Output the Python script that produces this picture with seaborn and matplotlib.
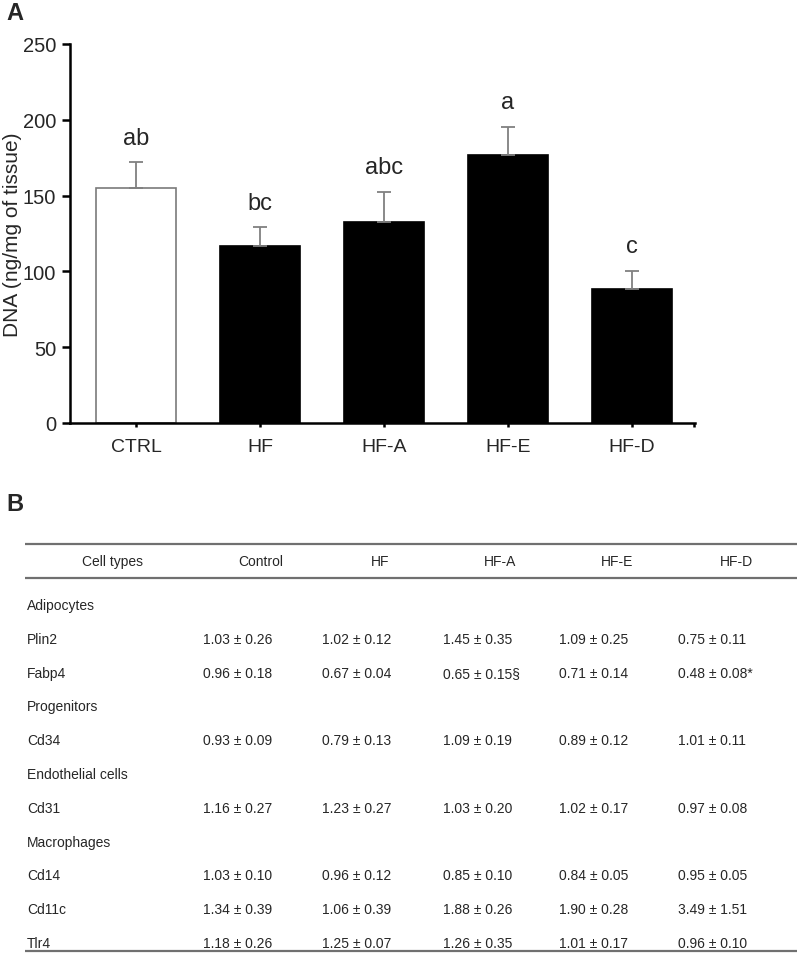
import matplotlib
matplotlib.use("Agg")
import matplotlib.pyplot as plt
import seaborn as sns
import pandas as pd
import numpy as np

# ---- Panel A data ----
groups = ["CTRL", "HF", "HF-A", "HF-E", "HF-D"]
dna_mean = [155, 116.5, 132.5, 176.5, 88.5]
dna_sem = [17, 12.5, 20, 19, 12]
sig_letters = ["ab", "bc", "abc", "a", "c"]
yticks = [0, 50, 100, 150, 200, 250]

# ---- Panel B data ----
table_header = ["Cell types", "Control", "HF", "HF-A", "HF-E", "HF-D"]
row_labels = ["Adipocytes", "Plin2", "Fabp4", "Progenitors", "Cd34",
              "Endothelial cells", "Cd31", "Macrophages", "Cd14", "Cd11c", "Tlr4"]
col_control = ["", "1.03 ± 0.26", "0.96 ± 0.18", "", "0.93 ± 0.09", "", "1.16 ± 0.27", "", "1.03 ± 0.10", "1.34 ± 0.39", "1.18 ± 0.26"]
col_hf = ["", "1.02 ± 0.12", "0.67 ± 0.04", "", "0.79 ± 0.13", "", "1.23 ± 0.27", "", "0.96 ± 0.12", "1.06 ± 0.39", "1.25 ± 0.07"]
col_hfa = ["", "1.45 ± 0.35", "0.65 ± 0.15§", "", "1.09 ± 0.19", "", "1.03 ± 0.20", "", "0.85 ± 0.10", "1.88 ± 0.26", "1.26 ± 0.35"]
col_hfe = ["", "1.09 ± 0.25", "0.71 ± 0.14", "", "0.89 ± 0.12", "", "1.02 ± 0.17", "", "0.84 ± 0.05", "1.90 ± 0.28", "1.01 ± 0.17"]
col_hfd = ["", "0.75 ± 0.11", "0.48 ± 0.08*", "", "1.01 ± 0.11", "", "0.97 ± 0.08", "", "0.95 ± 0.05", "3.49 ± 1.51", "0.96 ± 0.10"]

sns.set_theme(style="white")
plt.rcParams["font.family"] = ["Liberation Sans", "DejaVu Sans"]

W, H = 800, 954
fig = plt.figure(figsize=(W / 100, H / 100), dpi=100)

# ---------------- Panel A ----------------
x0, x1, yb, yt = 70, 695, 424, 45
ax = fig.add_axes([x0 / W, 1 - yb / H, (x1 - x0) / W, (yb - yt) / H])
df = pd.DataFrame({"group": groups, "dna": dna_mean})
colors = ["white", "black", "black", "black", "black"]
sns.barplot(data=df, x="group", y="dna", hue="group", palette=colors,
            legend=False, width=0.65, ax=ax, linewidth=1.2, edgecolor="black")
for i, p in enumerate(ax.patches):
    if i == 0:
        p.set_edgecolor("#7a7a7a")
ax.errorbar(np.arange(len(groups)), dna_mean,
            yerr=[np.zeros(len(groups)), dna_sem], fmt="none",
            ecolor="#808080", elinewidth=1.3, capsize=5, capthick=1.3, zorder=1)
for i, (m, s, lab) in enumerate(zip(dna_mean, dna_sem, sig_letters)):
    ax.text(i, m + s + 9, lab, ha="center", va="bottom", fontsize=17)
ax.set_ylim(0, 250)
ax.set_xlim(-0.532, 4.508)
ax.set_yticks(yticks)
ax.set_yticklabels([str(t) for t in yticks], fontsize=14.5)
ax.set_xticks(range(len(groups)))
ax.set_xticklabels(groups, fontsize=14)
ax.set_xlabel("")
ax.set_ylabel("DNA (ng/mg of tissue)", fontsize=15)
ax.yaxis.set_label_coords(-0.077, 0.5)
for side in ["top", "right"]:
    ax.spines[side].set_visible(False)
for side in ["left", "bottom"]:
    ax.spines[side].set_color("black")
    ax.spines[side].set_linewidth(1.8)
ax.tick_params(axis="y", which="major", direction="out", length=6, width=1.8,
               left=True, color="black", pad=4)
ax.tick_params(axis="x", which="major", direction="out", length=3, width=1.8,
               bottom=True, color="black", pad=8)
ax.set_xticks([4.5], minor=True)
ax.tick_params(axis="x", which="minor", direction="out", length=3, width=1.8,
               bottom=True, color="black")

# ---------------- Panel B (table) ----------------
tb = fig.add_axes([0, 0, 1, 1])
tb.set_xlim(0, W)
tb.set_ylim(H, 0)
tb.axis("off")
tb.patch.set_alpha(0)

fig.text(6 / W, 1 - 14 / H, "A", fontsize=17, fontweight="bold", ha="left", va="center")
fig.text(6 / W, 1 - 505 / H, "B", fontsize=17, fontweight="bold", ha="left", va="center")

line_col = "#707070"
tb.hlines([545, 579], 25, 797, color=line_col, linewidth=1.6)
tb.hlines([952], 25, 797, color=line_col, linewidth=1.6)

header_x = [113, 261, 380, 500, 617, 736]
for hx, h in zip(header_x, table_header):
    tb.text(hx, 562, h, ha="center", va="center", fontsize=10)

col_left = [203, 322, 443, 559, 678]
cols = [col_control, col_hf, col_hfa, col_hfe, col_hfd]
row_y0, row_dy = 606, 33.8
for r, lab in enumerate(row_labels):
    y = row_y0 + r * row_dy
    tb.text(27, y, lab, ha="left", va="center", fontsize=10)
    for cx, col in zip(col_left, cols):
        if col[r]:
            tb.text(cx, y, col[r], ha="left", va="center", fontsize=10)

fig.savefig("out.png", dpi=100)
